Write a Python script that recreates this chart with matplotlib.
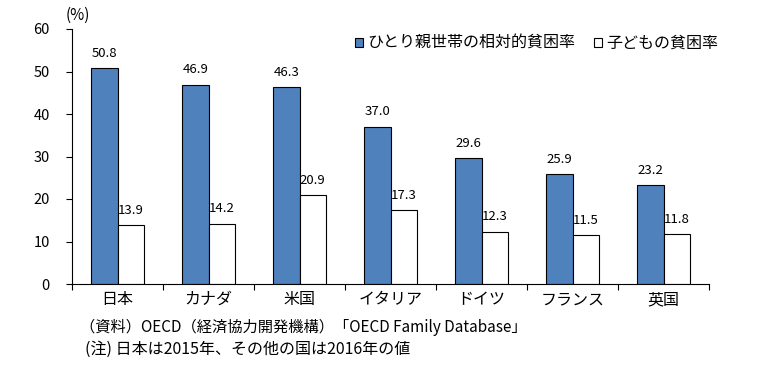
import matplotlib.pyplot as plt
import numpy as np

plt.rcParams['font.family'] = ['Noto Sans CJK JP', 'DejaVu Sans']

countries = ['日本', 'カナダ', '米国', 'イタリア', 'ドイツ', 'フランス', '英国']
single_parent = [50.8, 46.9, 46.3, 37.0, 29.6, 25.9, 23.2]
child = [13.9, 14.2, 20.9, 17.3, 12.3, 11.5, 11.8]
yticks = [0, 10, 20, 30, 40, 50, 60]

fig = plt.figure(figsize=(7.6, 3.69), dpi=100)
ax = fig.add_axes([72 / 760, 1 - 284 / 369, 637 / 760, 255 / 369])

x = np.arange(len(countries)) + 0.5
w = 0.286
b1 = ax.bar(x - w / 2, single_parent, w, color='#4f81bd', edgecolor='black', linewidth=0.8,
            label='ひとり親世帯の相対的貧困率')
b2 = ax.bar(x + w / 2, child, w, color='white', edgecolor='black', linewidth=0.8,
            label='子どもの貧困率')

for bars, vals in ((b1, single_parent), (b2, child)):
    for r, v in zip(bars, vals):
        ax.annotate(f'{v:.1f}', (r.get_x() + r.get_width() / 2, v), xytext=(0, 6),
                    textcoords='offset points', ha='center', va='bottom', fontsize=9.5)

ax.set_xlim(0, len(countries))
ax.set_ylim(0, 60)
ax.set_yticks(yticks)
ax.set_yticklabels([str(t) for t in yticks], fontsize=10.5)
ax.set_xticks(np.arange(len(countries) + 1))
ax.set_xticklabels([])
ax.set_xticks(x, minor=True)
ax.set_xticklabels(countries, minor=True, fontsize=11.5)
ax.tick_params(axis='x', which='minor', length=0, pad=5)
ax.tick_params(axis='x', which='major', length=4, direction='out')
ax.tick_params(axis='y', length=4, direction='out', pad=12)
ax.spines['top'].set_visible(False)
ax.spines['right'].set_visible(False)

fig.text(66 / 760, 1 - 15 / 369, '(%)', fontsize=11, va='center')

ax.legend(loc='upper left', bbox_to_anchor=(355 / 760, 1 - 35 / 369), bbox_transform=fig.transFigure,
          ncol=2, frameon=False, fontsize=11.5, handlelength=0.5, handleheight=0.5,
          handletextpad=0.25, columnspacing=1.2, borderaxespad=0, borderpad=0)

fig.text(80 / 760, 1 - 327 / 369, '（資料）OECD（経済協力開発機構）「OECD Family Database」',
         fontsize=11, va='center')
fig.text(85 / 760, 1 - 349 / 369, '(注) 日本は2015年、その他の国は2016年の値', fontsize=11.5, va='center')

fig.savefig('out.png', dpi=100)
